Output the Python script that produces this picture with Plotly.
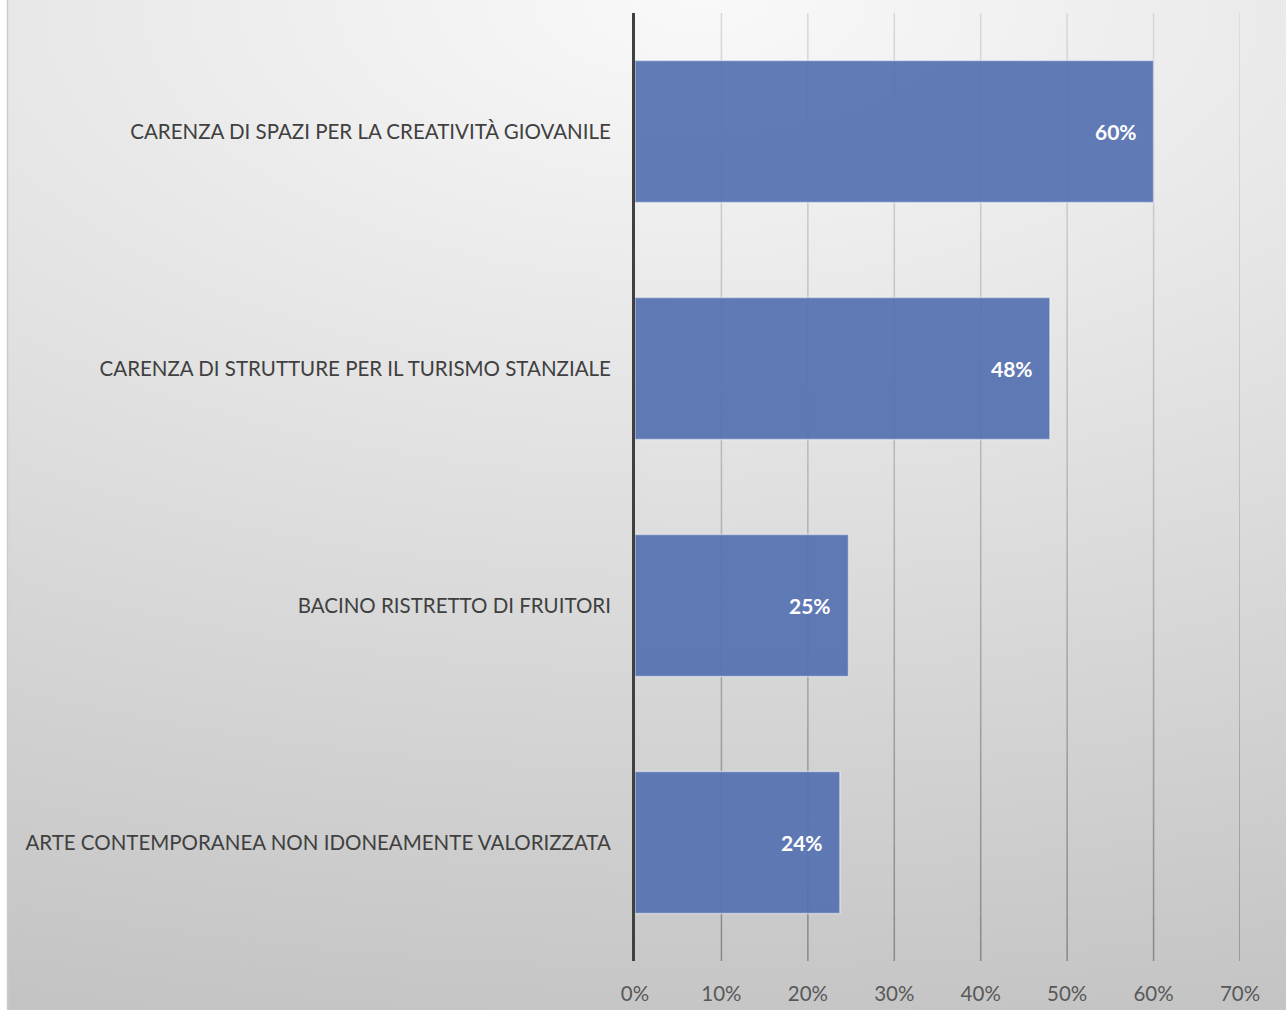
import base64
import plotly.graph_objects as go

# Survey results: share of respondents per issue
categories = [
    "CARENZA DI SPAZI PER LA CREATIVITÀ GIOVANILE",
    "CARENZA DI STRUTTURE PER IL TURISMO STANZIALE",
    "BACINO RISTRETTO DI FRUITORI",
    "ARTE CONTEMPORANEA NON IDONEAMENTE VALORIZZATA",
]
shares = [0.60, 0.48, 0.247, 0.237]
tick_values = [0, 0.1, 0.2, 0.3, 0.4, 0.5, 0.6, 0.7]
tick_labels = ["0%", "10%", "20%", "30%", "40%", "50%", "60%", "70%"]

W, H = 1286, 1013
M_L, M_R, M_T, M_B = 635, 46, 13, 52
FONT = "Lato, 'Open Sans', sans-serif"

# Chart-area backdrop: soft radial gradient, light at the top centre
svg = f"""<svg xmlns="http://www.w3.org/2000/svg" width="{W}" height="{H}" viewBox="0 0 {W} {H}" preserveAspectRatio="none">
<defs>
<radialGradient id="g" gradientUnits="userSpaceOnUse" cx="700" cy="0" r="1100"
 gradientTransform="translate(700 0) scale(2 1) translate(-700 0)">
<stop offset="0" stop-color="#f9f9f9"/>
<stop offset="1" stop-color="#c1c1c1"/>
</radialGradient>
</defs>
<rect x="0" y="0" width="{W}" height="{H}" fill="#ffffff"/>
<rect x="8" y="0" width="{W - 8}" height="1010" fill="url(#g)"/>
<line x1="7.5" y1="0" x2="7.5" y2="1010" stroke="#cdcdcd" stroke-width="1.5"/>
</svg>"""
svg_uri = "data:image/svg+xml;base64," + base64.b64encode(svg.encode("utf-8")).decode("ascii")

pw = W - M_L - M_R
ph = H - M_T - M_B

fig = go.Figure()
fig.add_trace(go.Bar(
    x=shares,
    y=categories,
    orientation="h",
    marker=dict(color="rgba(85,113,177,0.93)",
                line=dict(color="rgba(255,255,255,0.45)", width=1.5)),
    hoverinfo="skip",
))

# Value labels placed just inside the end of each bar
for cat, val in zip(categories, shares):
    fig.add_annotation(
        x=val, y=cat, xref="x", yref="y",
        text=f"<b>{val:.0%}</b>", showarrow=False,
        xanchor="right", xshift=-15,
        font=dict(family=FONT, size=21, color="#ffffff"),
    )

# Vertical gridlines that darken toward the bottom of the plot
def grid_shade(t):
    # t: 0 at bottom, 1 at top
    if t >= 0.5:
        v = 181 + (216 - 181) * (t - 0.5) / 0.5
    else:
        v = 136 + (181 - 136) * t / 0.5
    v = int(round(v))
    return f"rgb({v},{v},{v})"

N = 40
for tv in tick_values[1:]:
    for i in range(N):
        y0, y1 = i / N, (i + 1) / N
        fig.add_shape(
            type="line", xref="x", yref="paper",
            x0=tv, x1=tv, y0=y0, y1=y1,
            line=dict(color=grid_shade((y0 + y1) / 2), width=1.5),
            layer="below",
        )

fig.add_layout_image(dict(
    source=svg_uri, xref="paper", yref="paper",
    x=-M_L / pw, y=1 + M_T / ph,
    sizex=W / pw, sizey=H / ph,
    xanchor="left", yanchor="top",
    sizing="stretch", layer="below",
))

fig.update_layout(
    width=W, height=H,
    margin=dict(l=M_L, r=M_R, t=M_T, b=M_B, pad=0, autoexpand=False),
    paper_bgcolor="rgba(0,0,0,0)",
    plot_bgcolor="rgba(0,0,0,0)",
    bargap=0.4,
    showlegend=False,
    font=dict(family=FONT),
    xaxis=dict(
        range=[0, 0.7],
        tickvals=tick_values,
        ticktext=tick_labels,
        showgrid=False,
        zeroline=False,
        showline=False,
        ticks="",
        ticklabelstandoff=18,
        tickfont=dict(family=FONT, size=20.5, color="#595959"),
        automargin=False,
        fixedrange=True,
    ),
    yaxis=dict(
        autorange="reversed",
        showgrid=False,
        zeroline=False,
        showline=True,
        linecolor="#404040",
        linewidth=3,
        ticks="",
        ticklabelstandoff=17,
        tickfont=dict(family=FONT, size=20.5, color="#404040"),
        automargin=False,
        fixedrange=True,
    ),
)

fig.write_html("out.html")
